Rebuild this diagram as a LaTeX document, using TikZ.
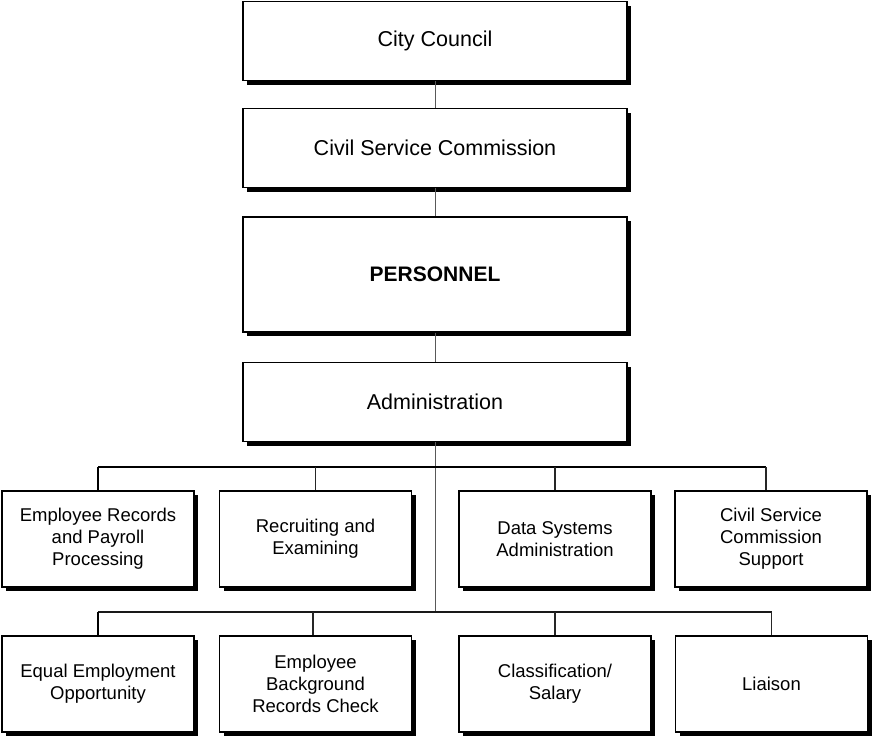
\documentclass[tikz,border=0pt]{standalone}
\usepackage{fontspec}
\setmainfont{Liberation Sans}
\usetikzlibrary{shadows,calc}
\begin{document}
\begin{tikzpicture}[x=1pt,y=-1pt,
  orgbox/.style={draw=black,line width=1.4pt,fill=white,rectangle,inner sep=0pt,align=center,
    drop shadow={shadow xshift=4pt,shadow yshift=-4pt,fill=black,opacity=1}},
  topbox/.style={orgbox,minimum width=384pt,minimum height=79pt,font=\fontsize{21.5}{26}\selectfont},
  lowbox/.style={orgbox,minimum width=192pt,minimum height=96pt,font=\fontsize{18.5}{22}\selectfont},
  spine/.style={draw=black!65,line width=1pt},
  busA/.style={draw=black,line width=2.2pt},
  busB/.style={draw=black!90,line width=1.7pt},
  dropA/.style={draw=black,line width=1.8pt},
  dropB/.style={draw=black!85,line width=1.4pt}]
\useasboundingbox (0,0) rectangle (875,736);
\fill[white] (0,0) rectangle (875,736);

\coordinate (b1) at (435,467);
\coordinate (b2) at (435,612);

\node[topbox] (cc) at (435,41) {City Council};
\node[topbox] (csc) at (435,148) {Civil Service Commission};
\node[topbox,minimum height=115pt,font=\fontsize{21}{26}\selectfont\bfseries] (per) at (435,274.5) {PERSONNEL};
\node[topbox] (adm) at (435,402) {Administration};

\draw[spine] (cc.south) -- (csc.north);
\draw[spine] (csc.south) -- (per.north);
\draw[spine] (per.south) -- (adm.north);
\draw[spine] (adm.south) -- (b2);

\node[lowbox] (r11) at (98,539) {Employee Records\\and Payroll\\Processing};
\node[lowbox] (r12) at (315.5,539) {Recruiting and\\Examining};
\node[lowbox] (r13) at (555,539) {Data Systems\\Administration};
\node[lowbox] (r14) at (771,539) {Civil Service\\Commission\\Support};

\node[lowbox] (r21) at (98,684) {Equal Employment\\Opportunity};
\node[lowbox] (r22) at (315.5,684) {Employee\\Background\\Records Check};
\node[lowbox] (r23) at (555,684) {Classification/\\Salary};
\node[lowbox] (r24) at (771.5,684) {Liaison};

\coordinate (r14d) at ($(r14.north)+(-5,0)$);
\draw[busA] (r11.north |- b1) -- (r14d |- b1);
\draw[dropA] (r11.north |- b1) -- (r11.north);
\draw[dropB] (r12.north |- b1) -- (r12.north);
\draw[dropB] (r13.north |- b1) -- (r13.north);
\draw[dropB] (r14d |- b1) -- (r14d);

\coordinate (r22d) at ($(r22.north)+(-2.5,0)$);
\draw[busB] (r21.north |- b2) -- (r24.north |- b2);
\draw[dropA] (r21.north |- b2) -- (r21.north);
\draw[dropB] (r22d |- b2) -- (r22d);
\draw[dropB] (r23.north |- b2) -- (r23.north);
\draw[dropB] (r24.north |- b2) -- (r24.north);
\end{tikzpicture}
\end{document}
